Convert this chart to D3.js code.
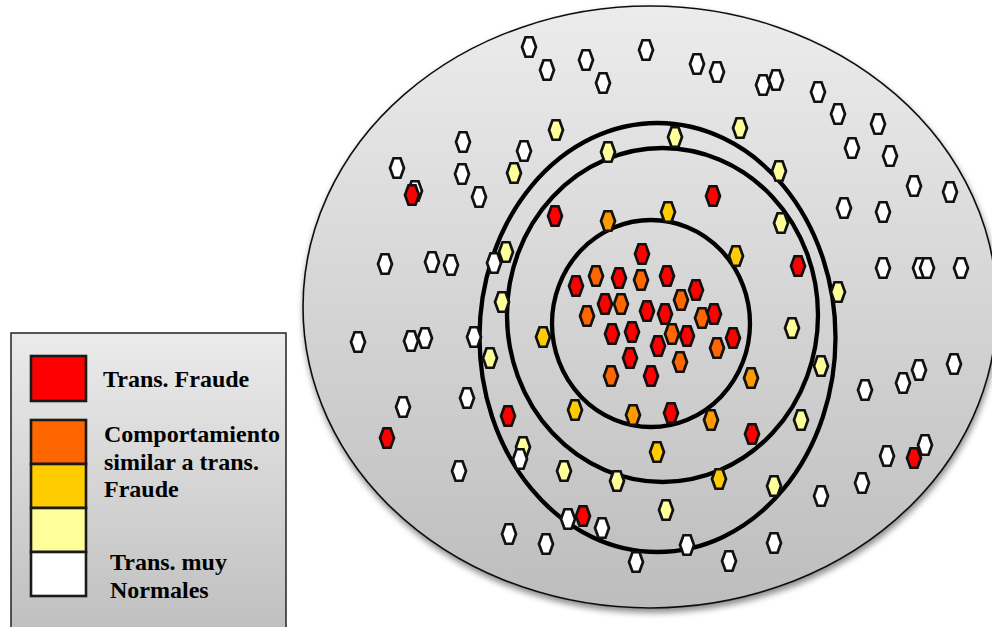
<!DOCTYPE html>
<html>
<head>
<meta charset="utf-8">
<script src="https://cdn.jsdelivr.net/npm/d3@7/dist/d3.min.js"></script>
<style>
  body { margin: 0; background: #fff; }
  svg { display: block; }
  .lbl { font-family: "Liberation Serif", "Times New Roman", serif; font-weight: bold; font-size: 24px; fill: #000; }
</style>
</head>
<body>
<svg id="chart" width="992" height="627"></svg>
<script>
/*** Data (in picture units) ***/
var classes = ["fraude", "riesgo4", "riesgo3", "riesgo2", "riesgo1", "normal"];
var classColors = ["#ff0000", "#ff6600", "#ff9900", "#ffcc00", "#ffff99", "#ffffff"];

var ptsFraude = [[642,254],[576,286],[619,278],[667,276],[696,290],[605,304],[647,311],[665,314],
  [714,314],[612,334],[632,332],[687,336],[658,346],[733,338],[630,358],[651,376],[671,413],
  [412,195],[555,216],[713,196],[798,266],[508,416],[387,438],[752,434],[583,516],[914,458]];
var ptsRiesgo4 = [[596,276],[641,280],[681,300],[621,304],[587,316],[702,318],[672,334],[717,348],[680,362],[611,376]];
var ptsRiesgo3 = [[608,221],[751,378],[633,415],[711,420]];
var ptsRiesgo2 = [[668,212],[736,256],[543,337],[575,410],[657,452],[719,479]];
var ptsRiesgo1 = [[556,130],[608,152],[675,137],[740,128],[779,171],[514,173],[781,223],[506,252],
  [502,302],[838,292],[792,328],[490,358],[821,366],[801,420],[523,447],[564,471],[617,481],[774,486],[666,510]];
var ptsNormal = [[529,47],[547,70],[586,60],[603,83],[646,50],[697,64],[717,72],[763,85],[776,80],
  [818,92],[838,114],[878,124],[852,148],[890,156],[914,186],[950,192],[844,208],[883,212],
  [883,268],[920,268],[927,268],[961,268],[463,142],[524,151],[397,168],[462,174],[415,191],
  [479,197],[385,264],[432,262],[451,265],[494,263],[358,342],[411,341],[425,338],[474,337],
  [467,398],[403,407],[459,471],[520,459],[568,519],[602,528],[509,534],[546,544],[636,562],
  [687,545],[729,561],[774,543],[821,496],[862,483],[887,456],[925,445],[865,390],[903,383],
  [919,370],[954,364]];

// zones: [cx, cy, rx, ry]
var universo = [650, 307, 347, 301];
var zonas = [[651, 323.5, 99, 103.5], [662.5, 315, 155.5, 167], [657.5, 337.5, 178, 214.5]];

var legendColors = ["#ff0000", "#ff6600", "#ffcc00", "#ffff99", "#ffffff"];
var legendLabels = [["Trans. Fraude"], ["Comportamiento", "similar a trans.", "Fraude"], ["Trans. muy", "Normales"]];

/*** Drawing ***/
var width = 992, height = 627;
var svg = d3.select("#chart");

var x = d3.scaleLinear().domain([0, 992]).range([0, width]);
var y = d3.scaleLinear().domain([0, 627]).range([0, height]);
var color = d3.scaleOrdinal().domain(classes).range(classColors);

var defs = svg.append("defs");
var grad = defs.append("linearGradient").attr("id", "gris").attr("x1", 0).attr("y1", 0).attr("x2", 0).attr("y2", 1);
grad.append("stop").attr("offset", "0%").attr("stop-color", "#ececec");
grad.append("stop").attr("offset", "100%").attr("stop-color", "#bdbdbd");
var gradL = defs.append("linearGradient").attr("id", "grisL").attr("x1", 0).attr("y1", 0).attr("x2", 0).attr("y2", 1);
gradL.append("stop").attr("offset", "0%").attr("stop-color", "#ebebeb");
gradL.append("stop").attr("offset", "100%").attr("stop-color", "#bcbcbc");
var sh = defs.append("filter").attr("id", "sombra").attr("x", "-10%").attr("y", "-10%").attr("width", "120%").attr("height", "125%");
sh.append("feDropShadow").attr("dx", 1).attr("dy", 4).attr("stdDeviation", 3)
  .attr("flood-color", "#000").attr("flood-opacity", 0.45);

// Big universe ellipse
svg.append("ellipse")
  .attr("cx", x(universo[0])).attr("cy", y(universo[1]))
  .attr("rx", x(universo[2]) - x(0)).attr("ry", y(universo[3]) - y(0))
  .attr("fill", "url(#gris)")
  .attr("stroke", "#111").attr("stroke-width", 1.6)
  .attr("filter", "url(#sombra)");

// Zone rings
svg.append("g").selectAll("ellipse").data(zonas).enter()
  .append("ellipse")
    .attr("cx", d => x(d[0])).attr("cy", d => y(d[1]))
    .attr("rx", d => x(d[2]) - x(0)).attr("ry", d => y(d[3]) - y(0))
    .attr("fill", "none")
    .attr("stroke", "#000").attr("stroke-width", 4.3);

// Transactions as hexagons
var hw = 14, hh = 19.5;
var hexPts = [[-hw/2, 0], [-hw/4, -hh/2], [hw/4, -hh/2], [hw/2, 0], [hw/4, hh/2], [-hw/4, hh/2]];
var hexPath = d3.line().curve(d3.curveLinearClosed)(hexPts);

var allPts = [];
[ptsFraude, ptsRiesgo4, ptsRiesgo3, ptsRiesgo2, ptsRiesgo1, ptsNormal].forEach((arr, i) => {
  arr.forEach(p => allPts.push({cls: classes[i], x: p[0], y: p[1]}));
});
allPts.sort((a, b) => a.y - b.y);

svg.append("g").selectAll("path").data(allPts).enter()
  .append("path")
    .attr("d", hexPath)
    .attr("transform", d => "translate(" + x(d.x) + "," + y(d.y) + ")")
    .attr("fill", d => color(d.cls))
    .attr("stroke", "#111")
    .attr("stroke-width", 2.7)
    .attr("stroke-linejoin", "miter");

// Legend box
var lg = svg.append("g");
lg.append("rect")
  .attr("x", 11).attr("y", 333).attr("width", 275).attr("height", 320)
  .attr("fill", "url(#grisL)")
  .attr("stroke", "#222").attr("stroke-width", 1.5);

var swY = [356, 420, 464, 508, 552];
lg.selectAll("rect.sw").data(legendColors).enter()
  .append("rect").attr("class", "sw")
    .attr("x", 31).attr("y", (d, i) => swY[i])
    .attr("width", 55).attr("height", (d, i) => i === 0 ? 45 : 44)
    .attr("fill", d => d)
    .attr("stroke", "#1a1a1a").attr("stroke-width", 2.6);

var lblPos = [[103, 387], [104, 442], [110, 570]];
legendLabels.forEach((lines, i) => {
  var t = lg.append("text").attr("class", "lbl")
    .attr("x", lblPos[i][0]).attr("y", lblPos[i][1]);
  lines.forEach((s, j) => {
    t.append("tspan").attr("x", lblPos[i][0]).attr("dy", j === 0 ? 0 : 27.5).text(s);
  });
});
</script>
</body>
</html>
